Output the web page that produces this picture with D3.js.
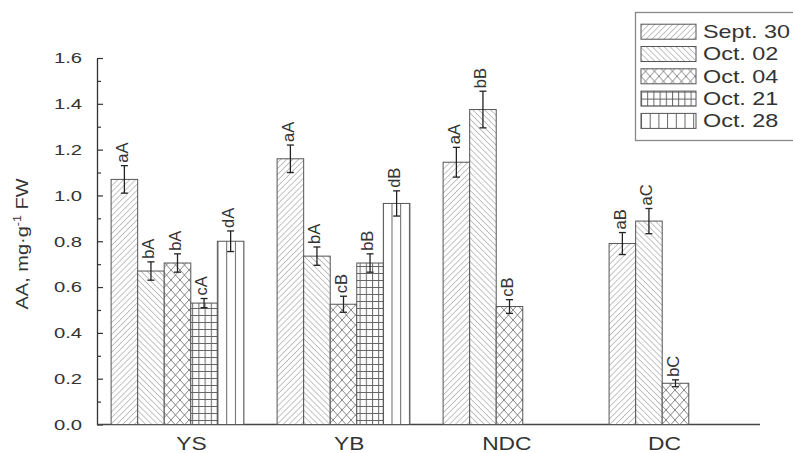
<!DOCTYPE html>
<html>
<head>
<meta charset="utf-8">
<script src="https://cdn.jsdelivr.net/npm/d3@7"></script>
<style>
body{margin:0;background:#fff;}
text{font-family:"Liberation Sans",Arial,sans-serif;fill:#333;}
</style>
</head>
<body>
<svg id="grafica" width="793" height="453"></svg>
<script>

var grupos = ["YS","YB","NDC","DC"];

var fechas = ["Sept. 30","Oct. 02","Oct. 04","Oct. 21","Oct. 28"];

// valores por grupo, en el orden de fechas (null = sin barra)
var valoresYS  = [1.07, 0.67, 0.705, 0.53, 0.80];
var valoresYB  = [1.16, 0.735, 0.525, 0.705, 0.965];
var valoresNDC = [1.145, 1.375, 0.515, null, null];
var valoresDC  = [0.79, 0.888, 0.18, null, null];

var erroresYS  = [0.06, 0.04, 0.04, 0.02, 0.045];
var erroresYB  = [0.06, 0.04, 0.035, 0.04, 0.055];
var erroresNDC = [0.065, 0.08, 0.03, null, null];
var erroresDC  = [0.048, 0.055, 0.015, null, null];

var letrasYS  = ["aA","bA","bA","cA","dA"];
var letrasYB  = ["aA","bA","cB","bB","dB"];
var letrasNDC = ["aA","bB","cB",null,null];
var letrasDC  = ["aB","aC","bC",null,null];

var ticksY = [0.0,0.2,0.4,0.6,0.8,1.0,1.2,1.4,1.6];
var ticksMenores = [0.1,0.3,0.5,0.7,0.9,1.1,1.3,1.5];


var valores = [valoresYS,valoresYB,valoresNDC,valoresDC];
var errores = [erroresYS,erroresYB,erroresNDC,erroresDC];
var letras  = [letrasYS,letrasYB,letrasNDC,letrasDC];

var svg = d3.select("#grafica");

var y = d3.scaleLinear().domain([0,1.6]).range([424.5,58]);

var x0 = d3.scaleBand().domain(grupos).range([97,756]).paddingInner(0.2).paddingOuter(0.085);

var x1 = d3.scaleBand().domain(fechas).range([0,x0.bandwidth()]);

// los rotulos del eje x no van centrados en las barras
var xRotulos = d3.scalePoint().domain(grupos).range([191,664]);


// ****************** patrones de relleno

var defs = svg.append("defs");

function patronDiagonal(id, angulo, paso){
      var p = defs.append("pattern")
            .attr("id",id)
            .attr("patternUnits","userSpaceOnUse")
            .attr("width",paso)
            .attr("height",paso)
            .attr("patternTransform","rotate("+angulo+")");
      p.append("rect").attr("width",paso).attr("height",paso).style("fill","#fff");
      p.append("line")
            .attr("x1",0).attr("y1",0).attr("x2",0).attr("y2",paso)
            .style("stroke","#7a7a7a").style("stroke-width",0.9);
}

patronDiagonal("pat0",45,4.2);
patronDiagonal("pat1",-45,4.2);

var pCruz = defs.append("pattern")
      .attr("id","pat2")
      .attr("patternUnits","userSpaceOnUse")
      .attr("width",9).attr("height",10);
pCruz.append("rect").attr("width",9).attr("height",10).style("fill","#fff");
pCruz.append("path")
      .attr("d","M0,0L9,10M9,0L0,10")
      .style("stroke","#777").style("stroke-width",0.9).style("fill","none");

var pRejilla = defs.append("pattern")
      .attr("id","pat3")
      .attr("patternUnits","userSpaceOnUse")
      .attr("width",6.2).attr("height",7);
pRejilla.append("rect").attr("width",6.2).attr("height",7).style("fill","#fff");
pRejilla.append("path")
      .attr("d","M0.5,0V7M0,0.5H6.2")
      .style("stroke","#666").style("stroke-width",1).style("fill","none");

var pVertical = defs.append("pattern")
      .attr("id","pat4")
      .attr("patternUnits","userSpaceOnUse")
      .attr("width",8.7).attr("height",8);
pVertical.append("rect").attr("width",8.7).attr("height",8).style("fill","#fff");
pVertical.append("path")
      .attr("d","M0.5,0V8")
      .style("stroke","#666").style("stroke-width",1).style("fill","none");


// ****************** ejes

var ejeY = d3.axisLeft(y).tickValues(ticksY).tickSizeInner(-6).tickSizeOuter(0).tickPadding(15)
      .tickFormat(d3.format(".1f"));

var gEjeY = svg.append("g").attr("transform","translate(97,0)").call(ejeY);

gEjeY.selectAll("text")
      .style("font-size","15px")
      .attr("x",-15/1.35)
      .attr("transform","scale(1.35,1)");

svg.append("g").attr("transform","translate(97,0)")
      .call(d3.axisLeft(y).tickValues(ticksMenores).tickSizeInner(-4).tickSizeOuter(0).tickFormat(""))
      .select(".domain").remove();

svg.selectAll(".tick line").style("stroke","#333").style("stroke-width",1.2);
gEjeY.select(".domain").style("stroke","#333").style("stroke-width",1.3);

svg.append("line")
      .attr("x1",97).attr("x2",760)
      .attr("y1",y(0)).attr("y2",y(0))
      .style("stroke","#444").style("stroke-width",1.5);

var ejeX = d3.axisBottom(xRotulos).tickSize(0).tickPadding(12);

var gEjeX = svg.append("g").attr("transform","translate(0,"+y(0)+")").call(ejeX);
gEjeX.select(".domain").remove();
gEjeX.selectAll(".tick text")
      .style("font-size","19px")
      .attr("transform","scale(1.2,1)");

svg.append("text")
      .attr("transform","translate(22,244) rotate(-90) scale(1.25,1)")
      .attr("text-anchor","middle")
      .attr("dy","0.35em")
      .style("font-size","16px")
      .call(function(t){
            t.append("tspan").text("AA, mg·g");
            t.append("tspan").text("-1").style("font-size","10px").attr("dy","-7");
            t.append("tspan").text(" FW").attr("dy","7");
      });


// ****************** barras

var filas = [];
grupos.forEach(function(g,i){
      fechas.forEach(function(f,j){
            if(valores[i][j]!==null){
                  filas.push({grupo:g, fecha:f, serie:j, valor:valores[i][j], error:errores[i][j], letra:letras[i][j]});
            }
      });
});

var barras = svg.append("g");

barras.selectAll("rect").data(filas).enter().append("rect")
      .attr("x",function(d){ return x0(d.grupo)+x1(d.fecha); })
      .attr("y",function(d){ return y(d.valor); })
      .attr("width",x1.bandwidth())
      .attr("height",function(d){ return y(0)-y(d.valor); })
      .style("fill",function(d){ return "url(#pat"+d.serie+")"; })
      .style("stroke","#555")
      .style("stroke-width",1);

var centro = function(d){ return x0(d.grupo)+x1(d.fecha)+x1.bandwidth()/2; };

var gErr = svg.append("g").style("stroke","#222").style("stroke-width",1.3);

gErr.selectAll(".vert").data(filas).enter().append("line")
      .attr("x1",centro).attr("x2",centro)
      .attr("y1",function(d){ return y(d.valor+d.error); })
      .attr("y2",function(d){ return y(d.valor-d.error); });

gErr.selectAll(".capSup").data(filas).enter().append("line")
      .attr("x1",function(d){ return centro(d)-3.5; })
      .attr("x2",function(d){ return centro(d)+3.5; })
      .attr("y1",function(d){ return y(d.valor+d.error); })
      .attr("y2",function(d){ return y(d.valor+d.error); });

gErr.selectAll(".capInf").data(filas).enter().append("line")
      .attr("x1",function(d){ return centro(d)-3.5; })
      .attr("x2",function(d){ return centro(d)+3.5; })
      .attr("y1",function(d){ return y(d.valor-d.error); })
      .attr("y2",function(d){ return y(d.valor-d.error); });

svg.append("g").selectAll("text").data(filas).enter().append("text")
      .attr("transform",function(d){ return "translate("+centro(d)+","+(y(d.valor+d.error)-3)+") rotate(-90)"; })
      .attr("dy","0.2em")
      .style("font-size","16.5px")
      .text(function(d){ return d.letra; });


// ****************** leyenda

var leyenda = svg.append("g");

leyenda.append("rect")
      .attr("x",635.5).attr("y",12.5)
      .attr("width",170).attr("height",128)
      .style("fill","#fff").style("stroke","#888").style("stroke-width",1.3);

var itemsLeyenda = leyenda.selectAll(".item").data(fechas).enter().append("g")
      .attr("transform",function(d,i){ return "translate(641,"+(31.7+i*22.3)+")"; });

itemsLeyenda.append("rect")
      .attr("x",0).attr("y",-7.5)
      .attr("width",55).attr("height",15)
      .style("fill",function(d,i){ return "url(#pat"+i+")"; })
      .style("stroke","#555").style("stroke-width",1);

itemsLeyenda.append("text")
      .attr("transform","translate(62,0) scale(1.3,1)")
      .attr("dy","0.36em")
      .style("font-size","18px")
      .text(function(d){ return d; });

</script>
</body>
</html>
